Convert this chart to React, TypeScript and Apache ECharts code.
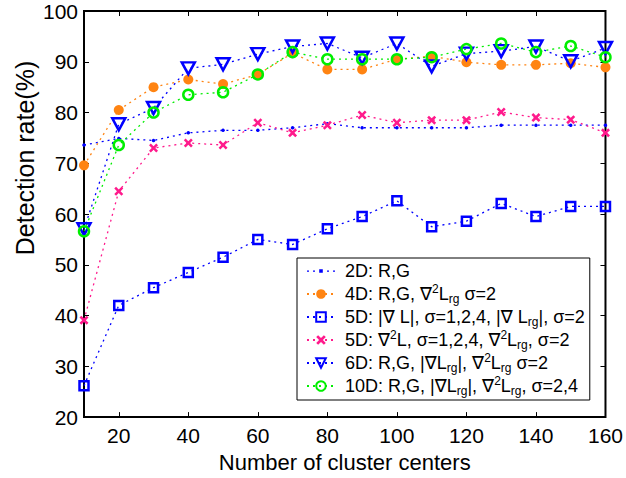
import React, { useEffect, useRef } from "react";
import * as echarts from "echarts";

const xs = [10, 20, 30, 40, 50, 60, 70, 80, 90, 100, 110, 120, 130, 140, 150, 160];
const xTicks = [20, 40, 60, 80, 100, 120, 140, 160];
const d2D = [73.6, 74.9, 74.5, 76.0, 76.5, 76.5, 77.0, 77.8, 77.0, 77.0, 77.0, 77.0, 77.5, 77.5, 77.5, 77.5];
const d4D = [69.6, 80.5, 85.0, 86.5, 85.6, 87.5, 91.7, 88.5, 88.5, 90.5, 91.1, 89.9, 89.4, 89.4, 89.7, 88.9];
const d5Dgrad = [26.2, 42.0, 45.5, 48.5, 51.5, 55.0, 54.0, 57.1, 59.5, 62.6, 57.5, 58.6, 62.1, 59.5, 61.5, 61.5];
const d5Dlap = [39.1, 64.5, 73.0, 74.0, 73.6, 78.0, 76.0, 77.5, 79.5, 78.0, 78.5, 78.5, 80.1, 79.0, 78.6, 76.0];
const d6D = [57.0, 77.7, 80.9, 88.7, 89.5, 91.5, 93.0, 93.6, 90.8, 93.6, 89.1, 91.6, 92.1, 93.0, 90.1, 92.7];
const d10D = [56.6, 73.6, 80.0, 83.5, 84.0, 87.5, 91.9, 90.5, 90.5, 90.5, 90.9, 92.5, 93.6, 91.9, 93.1, 90.9];

const names = ["2D", "4D", "5Da", "5Db", "6D", "10D"];
const labels: Record<string, string> = {
  "2D": "2D: R,G",
  "4D": "4D: R,G, ∇{sup|2}L{sub|rg} σ=2",
  "5Da": "5D: |∇ L|, σ=1,2,4, |∇ L{sub|rg}|, σ=2",
  "5Db": "5D: ∇{sup|2}L, σ=1,2,4, ∇{sup|2}L{sub|rg}, σ=2",
  "6D": "6D: R,G, |∇L{sub|rg}|, ∇{sup|2}L{sub|rg} σ=2",
  "10D": "10D: R,G, |∇L{sub|rg}|, ∇{sup|2}L{sub|rg}, σ=2,4",
};
const yTitle = "Detection rate(%)";
const xTitle = "Number of cluster centers";

const FONT = "Liberation Sans, Arial, DejaVu Sans, sans-serif";
const BLUE = "#0000ff";
const ORANGE = "#ff8412";
const PINK = "#ff1a8c";
const GREEN = "#00ee00";
const dotted = [2, 4];
const DOT_ICON =
  "path://M0,5.4h2v1.3h-2z M6,5.4h2v1.3h-2z M12.2,4.2h3.6v3.6h-3.6z M20,5.4h2v1.3h-2z M26,5.4h2v1.3h-2z";

export default function App() {
  const ref = useRef<HTMLDivElement>(null);
  useEffect(() => {
    document.body.style.margin = "0";
    const chart = echarts.init(ref.current!, null, { renderer: "svg" });
    const pts = (arr: number[]) => arr.map((v, i) => [xs[i], v]);
    const mk = (name: string, data: number[], color: string, symbol: string, size: any, filled: boolean) => ({
      name,
      type: "line",
      data: pts(data),
      symbol,
      symbolSize: size,
      showAllSymbol: true,
      lineStyle: { color, width: 1.3, type: dotted },
      itemStyle: filled
        ? { color, borderWidth: 0 }
        : { color: "rgba(255,255,255,0)", borderColor: color, borderWidth: 2.5 },
      emphasis: { disabled: true },
    });
    const axisCommon = {
      type: "value",
      axisLine: { show: false },
      splitLine: { show: false },
    };
    chart.setOption({
      animation: false,
      backgroundColor: "#fff",
      grid: { left: 84, right: 19, top: 11, bottom: 57, show: true, borderColor: "#000", borderWidth: 2 },
      graphic: [
        {
          type: "text",
          x: 25,
          y: 158,
          rotation: Math.PI / 2,
          style: {
            text: yTitle,
            fontFamily: FONT,
            fontSize: 25,
            fill: "#000",
            align: "center",
            verticalAlign: "middle",
          },
        },
      ],
      legend: {
        data: names.map((n) => (n === "2D" ? { name: n, icon: DOT_ICON } : { name: n })),
        orient: "vertical",
        left: 297,
        top: 258,
        backgroundColor: "#fff",
        borderColor: "#000",
        borderWidth: 1,
        padding: [2, 5, 3, 9],
        itemWidth: 28,
        itemHeight: 12,
        itemGap: 1,
        formatter: (n: string) => labels[n],
        textStyle: {
          fontFamily: FONT,
          fontSize: 18,
          color: "#000",
          lineHeight: 22,
          padding: [0, 0, 0, 5],
          rich: {
            sup: { fontFamily: FONT, fontSize: 12, lineHeight: 12, verticalAlign: "top", color: "#000" },
            sub: { fontFamily: FONT, fontSize: 12, lineHeight: 12, verticalAlign: "bottom", color: "#000" },
          },
        },
      },
      xAxis: [
        {
          ...axisCommon,
          min: 10,
          max: 160,
          name: xTitle,
          nameLocation: "middle",
          nameGap: 29,
          nameTextStyle: { fontFamily: FONT, fontSize: 22, color: "#000" },
          axisTick: { show: true, inside: true, length: 5, customValues: xTicks, lineStyle: { color: "#000", width: 1 } },
          axisLabel: { customValues: xTicks, fontFamily: FONT, fontSize: 21, color: "#000", margin: 8 },
        },
        {
          ...axisCommon,
          position: "top",
          min: 10,
          max: 160,
          axisTick: { show: true, inside: true, length: 5, customValues: xTicks, lineStyle: { color: "#000", width: 1 } },
          axisLabel: { show: false },
        },
      ],
      yAxis: [
        {
          ...axisCommon,
          min: 20,
          max: 100,
          interval: 10,
          axisTick: { show: true, inside: true, length: 5, lineStyle: { color: "#000", width: 1 } },
          axisLabel: { fontFamily: FONT, fontSize: 21, color: "#000", margin: 6 },
        },
        {
          ...axisCommon,
          position: "right",
          min: 20,
          max: 100,
          interval: 10,
          axisTick: { show: true, inside: true, length: 5, lineStyle: { color: "#000", width: 1 } },
          axisLabel: { show: false },
        },
      ],
      series: [
        mk("2D", d2D, BLUE, "circle", 3.5, true),
        mk("4D", d4D, ORANGE, "circle", 10, true),
        mk("5Da", d5Dgrad, BLUE, "rect", 9, false),
        mk("5Db", d5Dlap, PINK, "path://M2,0L5,3L8,0L10,2L7,5L10,8L8,10L5,7L2,10L0,8L3,5L0,2Z", 9, true),
        mk("6D", d6D, BLUE, "path://M0,0L14,0L7,12Z", [13, 12], false),
        mk("10D", d10D, GREEN, "circle", 10, false),
      ],
    });
    return () => chart.dispose();
  }, []);
  return <div ref={ref} style={{ width: 626, height: 478 }} />;
}
